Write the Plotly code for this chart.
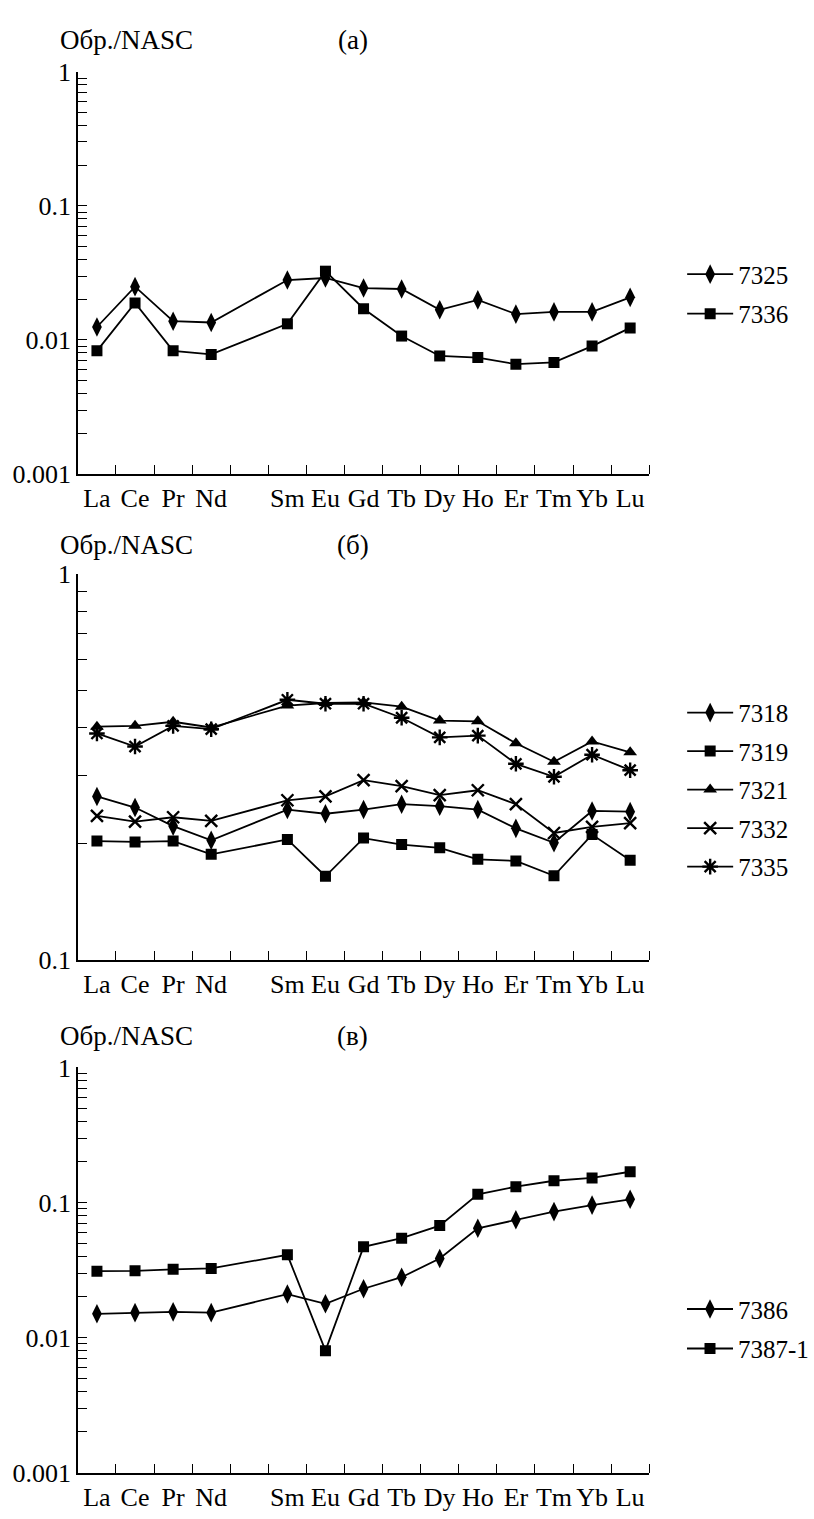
import plotly.graph_objects as go

# ---------------- data ----------------
elements = ["La", "Ce", "Pr", "Nd", "Pm", "Sm", "Eu", "Gd", "Tb", "Dy", "Ho", "Er", "Tm", "Yb", "Lu"]
shown = ["La", "Ce", "Pr", "Nd", "Sm", "Eu", "Gd", "Tb", "Dy", "Ho", "Er", "Tm", "Yb", "Lu"]

# panel (a)
s7325 = [0.0125, 0.025, 0.0138, 0.0135, 0.028, 0.029, 0.0244, 0.024, 0.0168, 0.0199, 0.0156, 0.0162, 0.0162, 0.0208]
s7336 = [0.0083, 0.0189, 0.0083, 0.0078, 0.0132, 0.0326, 0.0171, 0.0107, 0.0076, 0.0074, 0.0066, 0.0068, 0.0090, 0.0123]

# panel (б)
s7318 = [0.265, 0.248, 0.222, 0.204, 0.245, 0.239, 0.245, 0.253, 0.250, 0.245, 0.219, 0.201, 0.243, 0.242]
s7319 = [0.203, 0.202, 0.203, 0.1875, 0.205, 0.1645, 0.2066, 0.1988, 0.195, 0.182, 0.1803, 0.165, 0.211, 0.181]
s7321 = [0.402, 0.404, 0.414, 0.400, 0.456, 0.463, 0.465, 0.453, 0.417, 0.415, 0.364, 0.326, 0.368, 0.345]
s7332 = [0.236, 0.228, 0.234, 0.229, 0.259, 0.265, 0.292, 0.282, 0.267, 0.275, 0.253, 0.213, 0.221, 0.226]
s7335 = [0.386, 0.357, 0.404, 0.396, 0.472, 0.461, 0.461, 0.424, 0.377, 0.381, 0.322, 0.298, 0.340, 0.310]

# panel (в)
s7386 = [0.0150, 0.0153, 0.0155, 0.0153, 0.0210, 0.0178, 0.0230, 0.0280, 0.0385, 0.0645, 0.0745, 0.0857, 0.0957, 0.1057]
s7387_1 = [0.0310, 0.0312, 0.0320, 0.0325, 0.0410, 0.0080, 0.0470, 0.0545, 0.0675, 0.1150, 0.1310, 0.1450, 0.1520, 0.1690]

panels = [
    {"axis": "", "legend": "legend", "title": "(a)", "decades": [0.001, 0.01, 0.1, 1],
     "series": [("7325", s7325, "diamond-tall"), ("7336", s7336, "square")]},
    {"axis": "2", "legend": "legend2", "title": "(б)", "decades": [0.1, 1],
     "series": [("7318", s7318, "diamond-tall"), ("7319", s7319, "square"), ("7321", s7321, "triangle-up"),
                ("7332", s7332, "x-thin-open"), ("7335", s7335, "asterisk-open")]},
    {"axis": "3", "legend": "legend3", "title": "(в)", "decades": [0.001, 0.01, 0.1, 1],
     "series": [("7386", s7386, "diamond-tall"), ("7387-1", s7387_1, "square")]},
]

# ---------------- layout geometry (pixels) ----------------
W, H = 814, 1519
x_left, x_right = 78, 650
plot_px = [(59, 469), (571, 964), (1074, 1487)]   # (top, bottom) of each y-axis
title_px = [26, 541, 1042]
legend_px = [242, 689, 1297]
legend_gap = [4, 3, 4]
FONT = "Liberation Serif"

xpos = [elements.index(e) for e in shown]
boundaries = [i + 0.5 for i in range(len(elements))]

fig = go.Figure()

sizes = {"diamond-tall": 14, "square": 11, "triangle-up": 12, "x-thin-open": 12, "asterisk-open": 13}
for p in panels:
    for name, vals, sym in p["series"]:
        open_sym = sym.endswith("open")
        fig.add_trace(go.Scatter(
            x=xpos, y=vals, name=name, mode="lines+markers",
            xaxis="x" + p["axis"], yaxis="y" + p["axis"], legend=p["legend"], legendgroup=name,
            line=dict(color="black", width=1.8),
            marker=dict(symbol=sym, size=sizes[sym], color="black",
                        line=dict(color="black", width=2.4 if open_sym else 0)),
        ))

layout = dict(width=W, height=H, margin=dict(l=0, r=0, t=0, b=0),
              paper_bgcolor="white", plot_bgcolor="white",
              font=dict(family=FONT, size=25, color="black"))

annotations = []
for i, p in enumerate(panels):
    top, bot = plot_px[i]
    ax = p["axis"]
    layout["xaxis" + ax] = dict(
        domain=[x_left / W, x_right / W], range=[-0.5, len(elements) - 0.5],
        anchor="y" + ax, showgrid=False, zeroline=False,
        showline=True, linecolor="black", linewidth=1.5,
        tickmode="array", tickvals=xpos, ticktext=shown, ticks="",
        tickfont=dict(family=FONT, size=26, color="black"),
        minor=dict(tickmode="array", tickvals=boundaries, ticks="inside", ticklen=9,
                   tickwidth=1.4, tickcolor="black", showgrid=False),
    )
    decs = p["decades"]
    minors = []
    for d in decs[:-1]:
        minors += [round(d * k, 6) for k in range(2, 10)]
    layout["yaxis" + ax] = dict(
        domain=[1 - bot / H, 1 - top / H], type="log",
        range=[-3 if decs[0] == 0.001 else -1, 0],
        anchor="x" + ax, showgrid=False, zeroline=False,
        showline=True, linecolor="black", linewidth=1.5,
        tickmode="array", tickvals=decs, ticktext=[("%g" % d) for d in decs],
        ticks="inside", ticklen=9, tickwidth=1.4, tickcolor="black",
        tickfont=dict(family=FONT, size=26, color="black"),
        minor=dict(tickmode="array", tickvals=minors, ticks="inside", ticklen=9,
                   tickwidth=1.4, tickcolor="black", showgrid=False),
    )
    layout[p["legend"]] = dict(
        x=683 / W, y=1 - legend_px[i] / H, xanchor="left", yanchor="top",
        font=dict(family=FONT, size=25, color="black"), bgcolor="rgba(0,0,0,0)",
        tracegroupgap=legend_gap[i], itemwidth=46, traceorder="grouped",
    )
    annotations.append(dict(text="Обр./NASC", x=58 / W, y=1 - title_px[i] / H, xref="paper", yref="paper",
                            xanchor="left", yanchor="middle", showarrow=False,
                            font=dict(family=FONT, size=27, color="black")))
    annotations.append(dict(text=p["title"], x=353 / W, y=1 - title_px[i] / H, xref="paper", yref="paper",
                            xanchor="center", yanchor="middle", showarrow=False,
                            font=dict(family=FONT, size=27, color="black")))

layout["annotations"] = annotations
layout["showlegend"] = True
fig.update_layout(**layout)

fig.write_html("out.html")
